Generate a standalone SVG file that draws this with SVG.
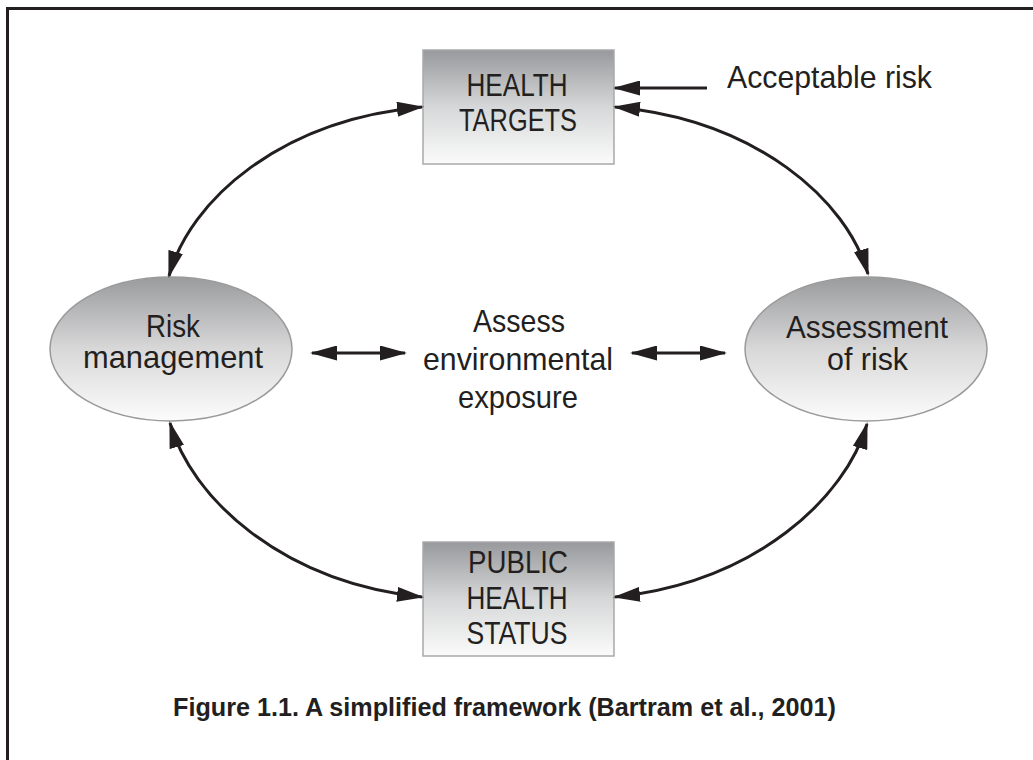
<svg xmlns="http://www.w3.org/2000/svg" width="1033" height="760" viewBox="0 0 1033 760">
<defs>
<linearGradient id="gBox" x1="0" y1="0" x2="0" y2="1">
<stop offset="0" stop-color="#97999c"/>
<stop offset="0.5" stop-color="#d6d7d8"/>
<stop offset="1" stop-color="#fbfbfb"/>
</linearGradient>
<linearGradient id="gEll" x1="0" y1="0" x2="0" y2="1">
<stop offset="0" stop-color="#9a9b9d"/>
<stop offset="0.5" stop-color="#d8d8d9"/>
<stop offset="1" stop-color="#fcfcfc"/>
</linearGradient>
<marker id="ah" viewBox="0 0 27 15" refX="25" refY="7.5" markerWidth="27" markerHeight="15" markerUnits="userSpaceOnUse" orient="auto-start-reverse">
<path d="M0,0 L27,7.5 L0,15 z" fill="#231f20"/>
</marker>
<style>
.box{fill:url(#gBox);stroke:#a9a9a9;stroke-width:1.5}
.ell{fill:url(#gEll);stroke:#9a9a9a;stroke-width:1.5}
.t{font-family:"Liberation Sans",Arial,sans-serif;font-size:30.5px;fill:#231f20;text-anchor:middle}
.cap{font-family:"Liberation Sans",Arial,sans-serif;font-size:26px;font-weight:bold;fill:#231f20}
.c{fill:none;stroke:#231f20;stroke-width:3}
.frame{fill:none;stroke:#231f20;stroke-width:3}
</style>
</defs>
<rect x="0" y="0" width="1033" height="760" fill="#ffffff"/>
<path class="frame" d="M7.5,760 V8.5 H1033"/>

<g id="health-targets">
<rect class="box" x="423" y="50" width="191" height="114"/>
<text class="t" x="517" y="96" textLength="101" lengthAdjust="spacingAndGlyphs">HEALTH</text>
<text class="t" x="518" y="131" textLength="118" lengthAdjust="spacingAndGlyphs">TARGETS</text>
</g>

<g id="acceptable-risk">
<text class="t" x="727" y="88" style="text-anchor:start" textLength="205" lengthAdjust="spacingAndGlyphs">Acceptable risk</text>
</g>

<g id="risk-management">
<ellipse class="ell" cx="171" cy="349" rx="121" ry="72"/>
<text class="t" x="173" y="337" textLength="54" lengthAdjust="spacingAndGlyphs">Risk</text>
<text class="t" x="173" y="368" textLength="180" lengthAdjust="spacingAndGlyphs">management</text>
</g>

<g id="assess-exposure">
<text class="t" x="519" y="332" textLength="92" lengthAdjust="spacingAndGlyphs">Assess</text>
<text class="t" x="518" y="370" textLength="190" lengthAdjust="spacingAndGlyphs">environmental</text>
<text class="t" x="518" y="408" textLength="120" lengthAdjust="spacingAndGlyphs">exposure</text>
</g>

<g id="assessment-of-risk">
<ellipse class="ell" cx="866" cy="349" rx="121" ry="72"/>
<text class="t" x="867" y="338" textLength="162" lengthAdjust="spacingAndGlyphs">Assessment</text>
<text class="t" x="867.5" y="370" textLength="81" lengthAdjust="spacingAndGlyphs">of risk</text>
</g>

<g id="public-health-status">
<rect class="box" x="423" y="542" width="191" height="114"/>
<text class="t" x="518" y="573" textLength="100" lengthAdjust="spacingAndGlyphs">PUBLIC</text>
<text class="t" x="517" y="609" textLength="101" lengthAdjust="spacingAndGlyphs">HEALTH</text>
<text class="t" x="517" y="644" textLength="101" lengthAdjust="spacingAndGlyphs">STATUS</text>
</g>

<g id="connectors">
<path class="c" d="M707,88 H615" marker-end="url(#ah)"/>
<path class="c" d="M169,276 C190,200 280,120 422,107" marker-start="url(#ah)" marker-end="url(#ah)"/>
<path class="c" d="M615,107 C757,120 847,200 868,274" marker-start="url(#ah)" marker-end="url(#ah)"/>
<path class="c" d="M170,423 C191,497 280,582 422,597" marker-start="url(#ah)" marker-end="url(#ah)"/>
<path class="c" d="M867,424 C846,497 757,582 615,597" marker-start="url(#ah)" marker-end="url(#ah)"/>
<path class="c" d="M312,353 H405" marker-start="url(#ah)" marker-end="url(#ah)"/>
<path class="c" d="M632,353 H725" marker-start="url(#ah)" marker-end="url(#ah)"/>
</g>

<g id="caption">
<text class="cap" x="173" y="716" textLength="663" lengthAdjust="spacingAndGlyphs">Figure 1.1. A simplified framework (Bartram et al., 2001)</text>
</g>
</svg>
